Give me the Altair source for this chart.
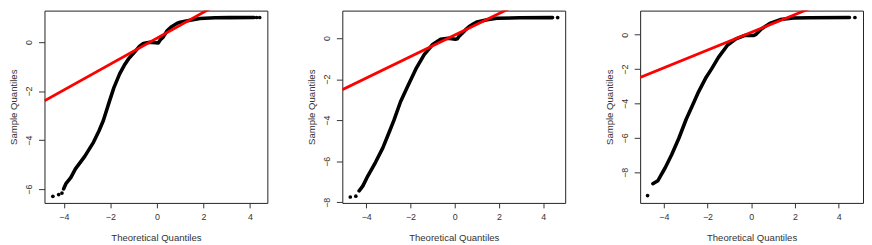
import altair as alt
import pandas as pd

# ---------------- data ----------------
x_ticks = [-4, -2, 0, 2, 4]

# Panel 1
p1_tq = [-4.01, -3.90, -3.70, -3.50, -3.10, -2.72, -2.49, -2.30, -2.05, -1.85, -1.60, -1.40,
         -1.22, -0.95, -0.75, -0.58, -0.30, 0.06, 0.15, 0.27, 0.44, 0.60, 0.86, 1.00, 1.43,
         1.85, 2.50, 3.12, 4.18]
p1_sq = [-5.99, -5.76, -5.53, -5.17, -4.66, -4.08, -3.63, -3.20, -2.45, -1.87, -1.30, -0.95,
         -0.69, -0.40, -0.18, -0.06, -0.01, -0.04, 0.09, 0.20, 0.46, 0.60, 0.76, 0.81, 0.89,
         0.96, 0.99, 0.995, 1.00]
p1_dot_tq = [-4.47, -4.22, -4.08, 4.29, 4.42]
p1_dot_sq = [-6.29, -6.22, -6.16, 1.00, 1.00]
p1_line = (0.155, 0.528)          # intercept, slope of qqline
p1_xdom = [-4.83, 4.75]
p1_ydom = [-6.56, 1.28]
p1_yticks = [-6, -4, -2, 0]

# Panel 2
p2_tq = [-4.32, -4.15, -3.93, -3.58, -3.25, -2.95, -2.75, -2.45, -2.12, -1.75, -1.38, -1.00,
         -0.64, -0.30, 0.03, 0.12, 0.20, 0.34, 0.48, 0.64, 0.85, 1.01, 1.46, 1.90, 2.94, 4.42]
p2_sq = [-7.44, -7.20, -6.72, -6.05, -5.35, -4.55, -4.01, -3.10, -2.33, -1.49, -0.80, -0.31,
         -0.06, -0.01, -0.05, -0.03, 0.10, 0.24, 0.40, 0.55, 0.70, 0.79, 0.90, 0.97, 0.99, 1.00]
p2_dot_tq = [-4.72, -4.47, 4.65]
p2_dot_sq = [-7.74, -7.70, 1.00]
p2_line = (0.15, 0.524)
p2_xdom = [-5.08, 4.99]
p2_ydom = [-8.03, 1.34]
p2_yticks = [-8, -6, -4, -2, 0]

# Panel 3
p3_tq = [-4.50, -4.27, -4.10, -3.94, -3.64, -3.31, -2.97, -2.72, -2.44, -2.06, -1.82, -1.50,
         -1.08, -0.70, -0.32, -0.03, 0.12, 0.22, 0.46, 0.85, 1.33, 1.93, 2.68, 4.49]
p3_sq = [-8.66, -8.49, -8.10, -7.75, -6.98, -6.02, -4.90, -4.20, -3.40, -2.47, -2.00, -1.32,
         -0.60, -0.24, -0.05, -0.05, -0.04, 0.02, 0.33, 0.66, 0.88, 0.97, 0.99, 1.00]
p3_dot_tq = [-4.74, 4.74]
p3_dot_sq = [-9.35, 1.00]
p3_line = (0.137, 0.517)
p3_xdom = [-5.08, 5.11]
p3_ydom = [-9.78, 1.40]
p3_yticks = [-8, -6, -4, -2, 0]

FONT = "Liberation Sans"
W, H = 226, 195


def panel(tq, sq, dtq, dsq, qq, xdom, ydom, yticks):
    curve = pd.DataFrame({"x": tq, "y": sq})
    dots = pd.DataFrame({"x": dtq, "y": dsq})
    a, b = qq
    line = pd.DataFrame({"x": xdom, "y": [a + b * v for v in xdom]})
    xs = alt.Scale(domain=xdom, nice=False, zero=False)
    ys = alt.Scale(domain=ydom, nice=False, zero=False)
    X = alt.X("x:Q", scale=xs,
              axis=alt.Axis(values=x_ticks, title="Theoretical Quantiles"))
    Y = alt.Y("y:Q", scale=ys,
              axis=alt.Axis(values=yticks, title="Sample Quantiles"))
    c = alt.Chart(curve).mark_line(color="black", strokeWidth=3.6, strokeCap="round",
                                   strokeJoin="round", clip=True).encode(X, Y)
    d = alt.Chart(dots).mark_circle(color="black", size=14, opacity=1, clip=True).encode(X, Y)
    r = alt.Chart(line).mark_line(color="#ff0000", strokeWidth=2.8, clip=True).encode(X, Y)
    return alt.layer(c, d, r).properties(width=W, height=H)


chart = alt.hconcat(
    panel(p1_tq, p1_sq, p1_dot_tq, p1_dot_sq, p1_line, p1_xdom, p1_ydom, p1_yticks),
    panel(p2_tq, p2_sq, p2_dot_tq, p2_dot_sq, p2_line, p2_xdom, p2_ydom, p2_yticks),
    panel(p3_tq, p3_sq, p3_dot_tq, p3_dot_sq, p3_line, p3_xdom, p3_ydom, p3_yticks),
    spacing=38,
).properties(padding=0, background="white").configure_view(
    stroke="#222", strokeWidth=1
).configure_axis(
    domain=False, grid=False,
    labelFont=FONT, labelFontSize=9, labelColor="#333",
    titleFont=FONT, titleFontSize=9.7, titleFontWeight="normal", titleColor="#333",
    tickColor="#333", tickWidth=1,
).configure_axisX(
    tickSize=5, labelPadding=5, titlePadding=11,
).configure_axisY(
    tickSize=6, labelPadding=5, labelAngle=270, labelAlign="center",
    labelBaseline="bottom", titlePadding=6,
)

chart.save("out.html", embed_options={"renderer": "svg", "actions": False})
